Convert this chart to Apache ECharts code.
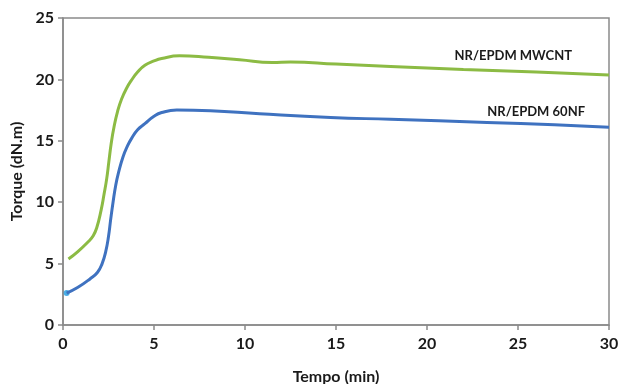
<!DOCTYPE html>
<html>
<head>
<meta charset="utf-8">
<script src="https://cdn.jsdelivr.net/npm/echarts@6/dist/echarts.min.js"></script>
<style>html,body{margin:0;padding:0;background:#fff}#c{width:619px;height:384px}</style>
</head>
<body>
<div id="c"></div>
<script>
var xTicks = [0, 5, 10, 15, 20, 25, 30];
var yTicks = [0, 5, 10, 15, 20, 25];
var seriesNames = ['NR/EPDM MWCNT', 'NR/EPDM 60NF'];
var timeMWCNT = [0.3, 0.8, 1.4, 1.65, 1.85, 2.1, 2.25, 2.4, 2.52, 2.65, 2.8, 3.0, 3.22, 3.5, 3.77, 4.1, 4.5, 5.0, 5.42, 6.4, 8, 9.7, 11.5, 12.5, 15, 18, 22, 26, 30];
var torqueMWCNT = [5.37, 5.95, 6.8, 7.25, 7.9, 9.4, 10.6, 11.9, 13.3, 14.8, 16.1, 17.4, 18.4, 19.3, 19.95, 20.6, 21.15, 21.5, 21.7, 21.92, 21.8, 21.6, 21.38, 21.42, 21.25, 21.05, 20.8, 20.6, 20.35];
var time60NF = [0.2, 0.8, 1.48, 1.9, 2.15, 2.35, 2.5, 2.62, 2.75, 2.9, 3.05, 3.3, 3.55, 3.77, 4.1, 4.5, 5.0, 5.42, 6.25, 8.1, 10.8, 14.7, 18, 23.3, 27, 30];
var torque60NF = [2.6, 3.05, 3.75, 4.3, 5.0, 6.0, 7.2, 8.6, 10.0, 11.4, 12.4, 13.7, 14.6, 15.2, 15.9, 16.4, 17.0, 17.3, 17.5, 17.45, 17.2, 16.9, 16.75, 16.5, 16.3, 16.1];

function pairs(t, v) { return t.map(function (x, i) { return [x, v[i]]; }); }

var chart = echarts.init(document.getElementById('c'));
var axisFont = { fontFamily: 'Lato', fontWeight: 'bold', fontSize: 16, color: '#1a1a1a' };
var nameFont = { fontFamily: 'Lato', fontWeight: 'bold', fontSize: 16, color: '#1a1a1a' };
chart.setOption({
  animation: false,
  grid: { left: 63, right: 10, top: 18, bottom: 59, containLabel: false, outerBoundsMode: 'none', show: true, borderColor: '#8a8a8a', borderWidth: 1.5, backgroundColor: 'transparent' },
  xAxis: {
    type: 'value', min: xTicks[0], max: xTicks[xTicks.length - 1], interval: 5,
    name: 'Tempo (min)', nameLocation: 'middle', nameGap: 44,
    nameTextStyle: nameFont,
    axisLine: { lineStyle: { color: '#8a8a8a', width: 1.5 } },
    axisTick: { show: true, length: 5, lineStyle: { color: '#8a8a8a', width: 1.5 } },
    axisLabel: Object.assign({ margin: 11 }, axisFont),
    splitLine: { show: false }
  },
  yAxis: {
    type: 'value', min: yTicks[0], max: yTicks[yTicks.length - 1], interval: 5,
    name: 'Torque (dN.m)', nameLocation: 'middle', nameGap: 36, nameRotate: 90,
    nameTextStyle: nameFont,
    axisLine: { show: true, lineStyle: { color: '#8a8a8a', width: 1.5 } },
    axisTick: { show: true, length: 5, lineStyle: { color: '#8a8a8a', width: 1.5 } },
    axisLabel: Object.assign({ margin: 9 }, axisFont),
    splitLine: { show: false }
  },
  series: [
    {
      name: seriesNames[0], type: 'line', smooth: 0.5, showSymbol: false,
      data: pairs(timeMWCNT, torqueMWCNT),
      lineStyle: { color: '#8cbb44', width: 3 }
    },
    {
      name: seriesNames[1], type: 'line', smooth: 0.5, showSymbol: false,
      data: pairs(time60NF, torque60NF),
      lineStyle: { color: '#3f72c0', width: 3 }
    },
    {
      name: 'start', type: 'scatter', symbolSize: 6, silent: true,
      data: [[time60NF[0], torque60NF[0]]],
      itemStyle: { color: '#1e9be0' }
    }
  ],
  graphic: [
    { type: 'text', right: 47, top: 49, style: { text: seriesNames[0], font: 'bold 13px Lato', fill: '#1a1a1a' } },
    { type: 'text', right: 34, top: 105, style: { text: seriesNames[1], font: 'bold 13px Lato', fill: '#1a1a1a' } }
  ]
});
</script>
</body>
</html>
